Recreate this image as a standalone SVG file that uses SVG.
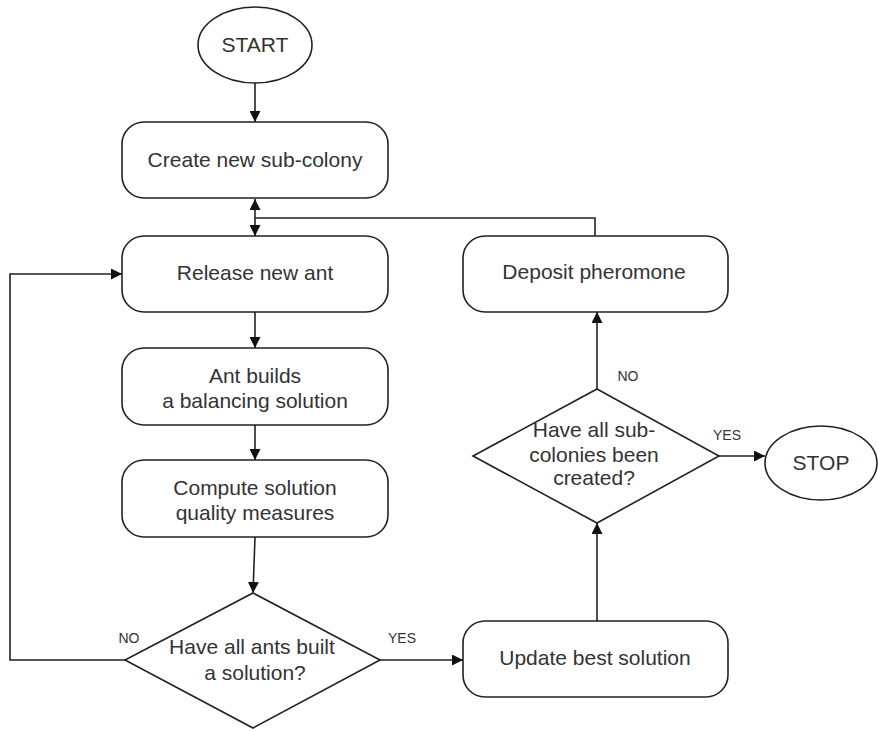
<svg xmlns="http://www.w3.org/2000/svg" width="878" height="731" viewBox="0 0 878 731">
<defs>
<marker id="ah" viewBox="0 0 10 10" refX="10" refY="5" markerWidth="11" markerHeight="11" markerUnits="userSpaceOnUse" orient="auto-start-reverse">
<path d="M0,0 L10,5 L0,10 z" fill="#111"/>
</marker>
<style>
.box{fill:#fff;stroke:#222;stroke-width:1.6}
.t{font-family:"Liberation Sans",Arial,sans-serif;font-size:21px;fill:#333;text-anchor:middle}
.s{font-family:"Liberation Sans",Arial,sans-serif;font-size:14px;fill:#333;text-anchor:middle}
.c{fill:none;stroke:#222;stroke-width:1.6}
</style>
</defs>
<rect width="878" height="731" fill="#fff"/>
<g id="connectors">
<path class="c" d="M255,83 V122" marker-end="url(#ah)"/>
<path class="c" d="M255,199 V236" marker-start="url(#ah)" marker-end="url(#ah)"/>
<path class="c" d="M595,236 V218 H255"/>
<path class="c" d="M255,312 V348" marker-end="url(#ah)"/>
<path class="c" d="M255,425 V460" marker-end="url(#ah)"/>
<path class="c" d="M255,537 L253,593" marker-end="url(#ah)"/>
<path class="c" d="M125,660 H10 V274 H122" marker-end="url(#ah)"/>
<path class="c" d="M380,660 H463" marker-end="url(#ah)"/>
<path class="c" d="M597,621 V523" marker-end="url(#ah)"/>
<path class="c" d="M597,389 V312" marker-end="url(#ah)"/>
<path class="c" d="M719,456 H765" marker-end="url(#ah)"/>
<text class="s" x="129" y="643">NO</text>
<text class="s" x="402" y="643">YES</text>
<text class="s" x="628" y="381">NO</text>
<text class="s" x="727" y="440">YES</text>
</g>
<g id="start">
<ellipse class="box" cx="255" cy="45" rx="57" ry="38"/>
<text class="t" x="255" y="52">START</text>
</g>
<g id="create">
<rect class="box" x="122" y="122" width="266" height="76" rx="22"/>
<text class="t" x="255" y="167">Create new sub-colony</text>
</g>
<g id="release">
<rect class="box" x="122" y="236" width="266" height="76" rx="22"/>
<text class="t" x="255" y="280">Release new ant</text>
</g>
<g id="build">
<rect class="box" x="122" y="348" width="266" height="77" rx="22"/>
<text class="t" x="255" y="383">Ant builds</text>
<text class="t" x="255" y="408">a balancing solution</text>
</g>
<g id="compute">
<rect class="box" x="122" y="460" width="266" height="77" rx="22"/>
<text class="t" x="255" y="495">Compute solution</text>
<text class="t" x="255" y="520">quality measures</text>
</g>
<g id="decision1">
<polygon class="box" points="253,593 380,660 253,728 125,660"/>
<text class="t" x="252" y="654">Have all ants built</text>
<text class="t" x="255" y="680">a solution?</text>
</g>
<g id="update">
<rect class="box" x="463" y="621" width="265" height="76" rx="22"/>
<text class="t" x="595" y="665">Update best solution</text>
</g>
<g id="decision2">
<polygon class="box" points="597,389 719,456 597,523 473,456"/>
<text class="t" x="594" y="437">Have all sub-</text>
<text class="t" x="594" y="462">colonies been</text>
<text class="t" x="594" y="485">created?</text>
</g>
<g id="deposit">
<rect class="box" x="463" y="236" width="265" height="76" rx="22"/>
<text class="t" x="594" y="279">Deposit pheromone</text>
</g>
<g id="stop">
<ellipse class="box" cx="821" cy="463" rx="56" ry="37"/>
<text class="t" x="821" y="470">STOP</text>
</g>
</svg>
